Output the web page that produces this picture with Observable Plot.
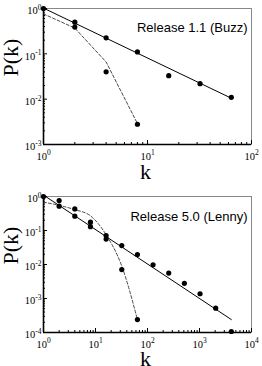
<!DOCTYPE html>
<html>
<head>
<meta charset="utf-8">
<script src="https://cdn.jsdelivr.net/npm/d3@7"></script>
<script src="https://cdn.jsdelivr.net/npm/@observablehq/plot@0.6"></script>
<style>
  html, body { margin: 0; padding: 0; background: white; }
  #chart { width: 262px; }
  #chart svg { display: block; }
</style>
</head>
<body>
<div id="chart"></div>
<script>
// Panel 1: Release 1.1 (Buzz)
const buzzLabel = "Release 1.1 (Buzz)";
const buzzK = [1, 2, 2, 4, 4, 8, 8, 16, 32, 64];
const buzzP = [1, 0.5, 0.39, 0.226, 0.04, 0.11, 0.0028, 0.033, 0.022, 0.011];
const buzzFitK = [1, 64];
const buzzFitP = [1.02, 0.0105];
const buzzCutK = [1, 2, 4, 8];
const buzzCutP = [0.76, 0.37, 0.066, 0.0029];
const buzzXTicks = [1, 10, 100];
const buzzYTicks = [1e-3, 1e-2, 1e-1, 1];

// Panel 2: Release 5.0 (Lenny)
const lennyLabel = "Release 5.0 (Lenny)";
const lennyK = [1, 2, 2, 4, 4, 8, 8, 16, 16, 32, 32, 64, 64, 128, 256, 512, 1024, 2048, 4096];
const lennyP = [1, 0.76, 0.52, 0.43, 0.264, 0.176, 0.13, 0.071, 0.056, 0.036, 0.0071, 0.0197, 0.00024, 0.0098, 0.0056, 0.0028, 0.00138, 0.00052, 0.000107];
const lennyFitK = [1, 4096];
const lennyFitP = [1.1, 0.00024];
const lennyCutK = [1, 2, 4, 8, 16, 32, 64];
const lennyCutP = [0.68, 0.55, 0.41, 0.27, 0.075, 0.009, 0.00024];
const lennyXTicks = [1, 10, 100, 1000, 10000];
const lennyYTicks = [1e-4, 1e-3, 1e-2, 1e-1, 1];

const xLabel = "k";
const yLabel = "P(k)";

function minorTicks(majors) {
  const out = [];
  for (let i = 0; i < majors.length - 1; i++)
    for (let m = 2; m <= 9; m++) out.push(majors[i] * m);
  return out;
}
const zip = (a, b) => a.map((v, i) => ({k: v, p: b[i]}));
const expFmt = d => String(Math.round(Math.log10(d)));

function panel({label, K, P, fitK, fitP, cutK, cutP, cutCurve, xTicks, yTicks, marginTop, marginBottom, labelDy, kDy}) {
  const xDom = [xTicks[0], xTicks[xTicks.length - 1]];
  const yDom = [yTicks[0], yTicks[yTicks.length - 1]];
  const plot = Plot.plot({
    width: 262,
    height: 183,
    marginLeft: 43,
    marginRight: 11,
    marginTop,
    marginBottom,
    style: {fontFamily: "'Liberation Serif', 'Times New Roman', serif", fontSize: "10.5px", background: "white", color: "black", overflow: "visible"},
    x: {type: "log", domain: xDom},
    y: {type: "log", domain: yDom},
    marks: [
      Plot.frame({stroke: "#888", strokeWidth: 1}),
      Plot.ruleY([yDom[0]], {stroke: "black", strokeWidth: 1.6}),
      Plot.ruleX([xDom[0]], {stroke: "black", strokeWidth: 1.6}),
      Plot.axisX({ticks: xTicks, tickSize: -4, fill: "none", label: null}),
      Plot.axisX({ticks: minorTicks(xTicks), tickSize: -2, fill: "none", label: null}),
      Plot.axisX({ticks: xTicks, tickSize: 0, tickPadding: 8, tickFormat: expFmt, label: null}),
      Plot.axisY({ticks: yTicks, tickSize: -4, fill: "none", label: null}),
      Plot.axisY({ticks: minorTicks(yTicks), tickSize: -2, fill: "none", label: null}),
      Plot.axisY({ticks: yTicks, tickSize: 0, tickPadding: 2, dy: 2.5, tickFormat: expFmt, label: null}),
      Plot.line(zip(fitK, fitP), {x: "k", y: "p", stroke: "black", strokeWidth: 1}),
      Plot.line(zip(cutK, cutP), {x: "k", y: "p", stroke: "#333", strokeWidth: 0.9, strokeDasharray: "3,2", curve: cutCurve}),
      Plot.dot(zip(K, P), {x: "k", y: "p", r: 2.6, fill: "black", stroke: "none", clip: false}),
      Plot.text([label], {frameAnchor: "top-right", textAnchor: "end", lineAnchor: "middle", dx: -4, dy: labelDy, fontFamily: "'Liberation Sans', Arial, sans-serif", fontSize: 13}),
      Plot.text([xLabel], {frameAnchor: "bottom", lineAnchor: "middle", dx: -2, dy: kDy, fontSize: 22}),
      Plot.text([yLabel], {frameAnchor: "left", lineAnchor: "middle", rotate: -90, dx: -33, fontSize: 22})
    ]
  });
  d3.select(plot).selectAll('g[aria-label="x-axis tick label"] text, g[aria-label="y-axis tick label"] text').each(function () {
    const t = this.textContent;
    const s = d3.select(this);
    s.text("10");
    s.append("tspan").attr("dy", -4.5).attr("font-size", 7.5).text(t);
  });
  return plot;
}

const chart = document.getElementById("chart");
chart.appendChild(panel({label: buzzLabel, K: buzzK, P: buzzP, fitK: buzzFitK, fitP: buzzFitP, cutK: buzzCutK, cutP: buzzCutP, cutCurve: "linear", xTicks: buzzXTicks, yTicks: buzzYTicks, marginTop: 8, marginBottom: 39, labelDy: 19, kDy: 27}));
chart.appendChild(panel({label: lennyLabel, K: lennyK, P: lennyP, fitK: lennyFitK, fitP: lennyFitP, cutK: lennyCutK, cutP: lennyCutP, cutCurve: "monotone-x", xTicks: lennyXTicks, yTicks: lennyYTicks, marginTop: 13, marginBottom: 34, labelDy: 20, kDy: 26}));
</script>
</body>
</html>
